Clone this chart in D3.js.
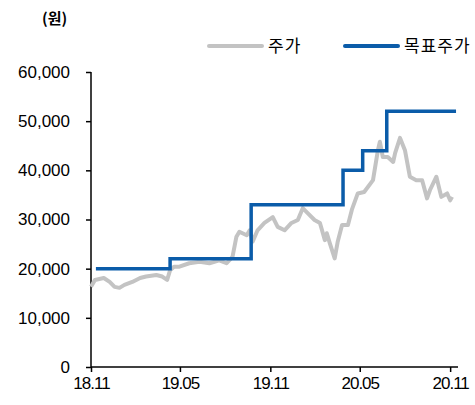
<!DOCTYPE html>
<html>
<head>
<meta charset="utf-8">
<script src="https://cdn.jsdelivr.net/npm/d3@7"></script>
<style>
  body { margin: 0; background: #fff; }
  text { font-family: "Liberation Sans", Arial, sans-serif; }
  .kr { font-family: "Noto Sans CJK KR", sans-serif; }
</style>
</head>
<body>
<div id="chart-area"></div>
<script>
// Data
var priceDates = ["2018-11-01","2018-11-09","2018-11-27","2018-12-09","2018-12-19","2018-12-29","2019-01-08","2019-01-24",
  "2019-02-09","2019-02-21","2019-03-14","2019-03-26","2019-04-05","2019-04-11","2019-04-19","2019-04-30","2019-05-20","2019-06-10",
  "2019-06-30","2019-07-20","2019-08-04","2019-08-16","2019-08-24","2019-08-30","2019-09-14","2019-09-20","2019-09-26",
  "2019-10-06","2019-10-20","2019-11-06","2019-11-16","2019-11-30","2019-12-14","2019-12-27","2020-01-06","2020-01-16",
  "2020-01-30","2020-02-10","2020-02-20","2020-02-24","2020-03-01","2020-03-11","2020-03-17","2020-03-26","2020-04-07",
  "2020-04-15","2020-04-27","2020-05-10","2020-05-28","2020-06-07","2020-06-11","2020-06-17","2020-06-27","2020-07-08",
  "2020-07-12","2020-07-22","2020-08-01","2020-08-11","2020-08-24","2020-09-05","2020-09-15","2020-09-21",
  "2020-10-04","2020-10-14","2020-10-26","2020-11-01","2020-11-05"];
var priceValues = [16300,17700,18100,17300,16300,16100,16700,17300,
  18100,18400,18700,18400,17700,19700,20400,20400,21100,21400,
  21100,21700,21100,22400,26500,27500,26800,27800,25500,
  27800,29300,30500,28500,27800,29300,29900,32300,31300,
  29900,29300,25800,27200,25200,22100,25400,28900,28900,
  32000,35300,35600,38000,44100,45800,42700,42700,41700,
  43500,46600,44100,38700,38000,38000,34300,36000,
  38700,34600,35300,33900,34600];

var targetDates = ["2018-11-11","2019-04-11","2019-09-23","2020-03-28","2020-05-07","2020-06-25","2020-11-13"];
var targetValues = [20000,22000,33000,40000,44000,52000,52000];

var yTicks = [0,10000,20000,30000,40000,50000,60000];
var xTicks = ["2018-11-01","2019-05-01","2019-11-01","2020-05-01","2020-11-01"];

var seriesNames = ["주가","목표주가"];
var seriesColors = ["#c3c3c3","#0b5ca9"];

var width = 475, height = 405;
var parse = d3.timeParse("%Y-%m-%d");

var svg = d3.select("#chart-area").append("svg").attr("width", width).attr("height", height);

// Scales
var x = d3.scaleTime().domain([parse("2018-11-01"), parse("2020-11-17")]).range([91, 458]);
var y = d3.scaleLinear().domain([0, 60000]).range([367, 72]);

// Axis
var yAxisCall = d3.axisLeft(y).tickValues(yTicks).tickSize(5).tickPadding(16).tickFormat(d3.format(","));
var yAxisGroup = svg.append("g").attr("transform", "translate(91,0)").call(yAxisCall);
yAxisGroup.selectAll("text").attr("font-size", "17px").attr("fill", "#000").style("font-family", "Liberation Sans, Arial, sans-serif");

var xAxisCall = d3.axisBottom(x).tickValues(xTicks.map(parse)).tickSize(5).tickPadding(5).tickFormat(d3.timeFormat("%y.%m"));
var xAxisGroup = svg.append("g").attr("transform", "translate(0,367)").call(xAxisCall);
xAxisGroup.selectAll("text").attr("font-size", "17px").attr("letter-spacing", "-1px").attr("fill", "#000").style("font-family", "Liberation Sans, Arial, sans-serif");

svg.selectAll(".domain").attr("stroke", "#000").attr("stroke-width", 1.5);
svg.selectAll(".tick line").attr("stroke", "#000").attr("stroke-width", 1.5);
// keep only the axis lines, no outer ticks
yAxisGroup.select(".domain").attr("d", "M0,72V367");
xAxisGroup.select(".domain").attr("d", "M91,0H458");

// Lines
var price = priceDates.map((d, i) => ({date: parse(d), value: priceValues[i]}));
var target = targetDates.map((d, i) => ({date: parse(d), value: targetValues[i]}));

var line = d3.line().x((d) => x(d.date)).y((d) => y(d.value));
var stepLine = d3.line().x((d) => x(d.date)).y((d) => y(d.value)).curve(d3.curveStepAfter);

svg.append("path").datum(price).attr("d", line).attr("fill", "none")
  .attr("stroke", seriesColors[0]).attr("stroke-width", 4).attr("stroke-linejoin", "round");
svg.append("path").datum(target).attr("d", stepLine).attr("fill", "none")
  .attr("stroke", seriesColors[1]).attr("stroke-width", 3.5);

// Unit label
svg.append("text").attr("class", "kr").attr("x", 42).attr("y", 24).attr("font-size", "15px")
  .attr("font-weight", "bold").text("(원)");

// Legend
var legendX = [209, 345];
seriesNames.forEach((name, i) => {
  var row = svg.append("g").attr("transform", "translate(" + legendX[i] + ",46)");
  row.append("line").attr("x1", 0).attr("x2", 53).attr("y1", 0).attr("y2", 0)
    .attr("stroke", seriesColors[i]).attr("stroke-width", 4).attr("stroke-linecap", "round");
  row.append("text").attr("class", "kr").attr("x", 59).attr("y", 6).attr("font-size", "17px")
    .attr("letter-spacing", "1px").text(name);
});
</script>
</body>
</html>
